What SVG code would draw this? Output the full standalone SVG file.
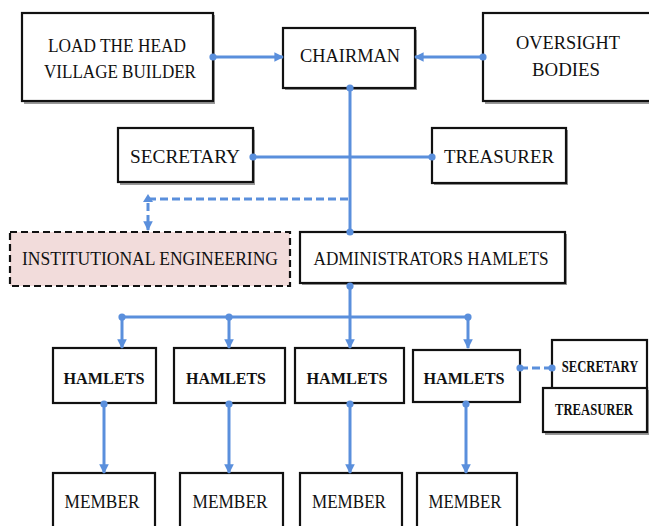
<svg xmlns="http://www.w3.org/2000/svg" width="649" height="526" viewBox="0 0 649 526">
<style>
.box{fill:#fff;stroke:#111;stroke-width:2.2}
.sh{fill:#999}
.t{font-family:"Liberation Serif","Times New Roman",serif;font-size:18px;fill:#111;text-anchor:middle;dominant-baseline:central}
.s{font-family:"Liberation Serif","Times New Roman",serif;font-size:16px;font-weight:bold;fill:#111;text-anchor:middle;dominant-baseline:central}
.c{fill:none;stroke:#5a8fdc;stroke-width:3}
.d{fill:none;stroke:#5a8fdc;stroke-width:3;stroke-dasharray:8 4}
</style>
<defs>
<marker id="arr" viewBox="0 0 10 10" refX="9" refY="5" markerWidth="3.2" markerHeight="3.2" orient="auto" markerUnits="strokeWidth"><path d="M0,0 L10,5 L0,10 z" fill="#5a8fdc"/></marker>
<marker id="dot" viewBox="0 0 10 10" refX="5" refY="5" markerWidth="2.4" markerHeight="2.4" orient="auto" markerUnits="strokeWidth"><circle cx="5" cy="5" r="5" fill="#5a8fdc"/></marker>
</defs>

<g id="load"><rect class="sh" x="24" y="15" width="191" height="89"/><rect class="box" x="22" y="13" width="191" height="88"/><text class="t" x="117" y="46" textLength="138" lengthAdjust="spacingAndGlyphs">LOAD THE HEAD</text><text class="t" x="120" y="72" textLength="152" lengthAdjust="spacingAndGlyphs">VILLAGE BUILDER</text></g>
<g id="chairman"><rect class="sh" x="285" y="30" width="132" height="60"/><rect class="box" x="283" y="28" width="132" height="60"/><text class="t" x="350" y="56" textLength="100" lengthAdjust="spacingAndGlyphs">CHAIRMAN</text></g>
<g id="oversight"><rect class="sh" x="485" y="15" width="166" height="89"/><rect class="box" x="483" y="13" width="170" height="88"/><text class="t" x="568" y="43" textLength="104" lengthAdjust="spacingAndGlyphs">OVERSIGHT</text><text class="t" x="566" y="70" textLength="68" lengthAdjust="spacingAndGlyphs">BODIES</text></g>
<g id="secretary"><rect class="sh" x="120" y="130" width="135" height="55"/><rect class="box" x="118" y="128" width="135" height="54"/><text class="t" x="185" y="157" textLength="110" lengthAdjust="spacingAndGlyphs">SECRETARY</text></g>
<g id="treasurer"><rect class="sh" x="434" y="130" width="134" height="55"/><rect class="box" x="432" y="128" width="134" height="55"/><text class="t" x="499" y="157" textLength="110" lengthAdjust="spacingAndGlyphs">TREASURER</text></g>
<g id="institutional"><rect x="10" y="232" width="280" height="54" fill="#f2dcdb" stroke="#111" stroke-width="2.2" stroke-dasharray="7 4"/><text class="t" x="150" y="259" textLength="256" lengthAdjust="spacingAndGlyphs">INSTITUTIONAL  ENGINEERING</text></g>
<g id="admin"><rect class="sh" x="302" y="234" width="265" height="51"/><rect class="box" x="300" y="232" width="265" height="51"/><text class="t" x="431" y="259" textLength="235" lengthAdjust="spacingAndGlyphs">ADMINISTRATORS HAMLETS</text></g>

<g id="hamlets1"><rect class="box" x="53" y="348" width="103" height="55" stroke-width="3"/><text class="s" x="104" y="378" textLength="81" lengthAdjust="spacingAndGlyphs">HAMLETS</text></g>
<g id="hamlets2"><rect class="box" x="174" y="348" width="111" height="55" stroke-width="3"/><text class="s" x="226" y="378" textLength="80" lengthAdjust="spacingAndGlyphs">HAMLETS</text></g>
<g id="hamlets3"><rect class="box" x="295" y="348" width="109" height="55" stroke-width="3"/><text class="s" x="347" y="378" textLength="81" lengthAdjust="spacingAndGlyphs">HAMLETS</text></g>
<g id="hamlets4"><rect class="box" x="413" y="350" width="107" height="52" stroke="#555" stroke-width="1.6"/><text class="s" x="464" y="378" textLength="81" lengthAdjust="spacingAndGlyphs">HAMLETS</text></g>
<g id="secretary2"><rect class="box" x="552" y="340" width="95" height="50"/><text class="s" transform="translate(600,366) scale(0.79,1)">SECRETARY</text></g>
<g id="treasurer2"><rect class="sh" x="545" y="390" width="104" height="45"/><rect class="box" x="543" y="388" width="104" height="44"/><text class="s" transform="translate(594,409) scale(0.79,1)">TREASURER</text></g>

<g id="member1"><rect class="box" x="53" y="473" width="102" height="60"/><text class="t" x="102" y="502" textLength="75" lengthAdjust="spacingAndGlyphs">MEMBER</text></g>
<g id="member2"><rect class="box" x="180" y="473" width="103" height="60"/><text class="t" x="230" y="502" textLength="75" lengthAdjust="spacingAndGlyphs">MEMBER</text></g>
<g id="member3"><rect class="box" x="300" y="473" width="102" height="60"/><text class="t" x="349" y="502" textLength="74" lengthAdjust="spacingAndGlyphs">MEMBER</text></g>
<g id="member4"><rect class="box" x="417" y="473" width="100" height="60"/><text class="t" x="465" y="502" textLength="73" lengthAdjust="spacingAndGlyphs">MEMBER</text></g>

<g id="connectors">
<path class="c" d="M213,57 H283" marker-start="url(#dot)" marker-end="url(#arr)"/>
<path class="c" d="M483,57 H415" marker-start="url(#dot)" marker-end="url(#arr)"/>
<path class="c" d="M350,88 V232" marker-start="url(#dot)" marker-end="url(#dot)"/>
<path class="c" d="M253,157 H432" marker-start="url(#dot)" marker-end="url(#dot)"/>
<path class="d" d="M348,199 H148 V230" marker-end="url(#arr)"/>
<path d="M143,202 L148,194 L153,202 z" fill="#5a8fdc"/>
<path class="c" d="M350,286 V348" marker-start="url(#dot)" marker-end="url(#arr)"/>
<path class="c" d="M122,317 H468" stroke-width="2.5"/>
<path class="c" d="M122,317 V348" marker-start="url(#dot)" marker-end="url(#arr)"/>
<path class="c" d="M229,317 V348" marker-start="url(#dot)" marker-end="url(#arr)"/>
<path class="c" d="M468,317 V348" marker-start="url(#dot)" marker-end="url(#arr)"/>
<path class="c" d="M104,404 V473" marker-start="url(#dot)" marker-end="url(#arr)"/>
<path class="c" d="M229,404 V473" marker-start="url(#dot)" marker-end="url(#arr)"/>
<path class="c" d="M350,404 V473" marker-start="url(#dot)" marker-end="url(#arr)"/>
<path class="c" d="M466,404 V473" marker-start="url(#dot)" marker-end="url(#arr)"/>
<path class="d" d="M552,368 H520" marker-start="url(#dot)" marker-end="url(#dot)"/>
</g>
</svg>
